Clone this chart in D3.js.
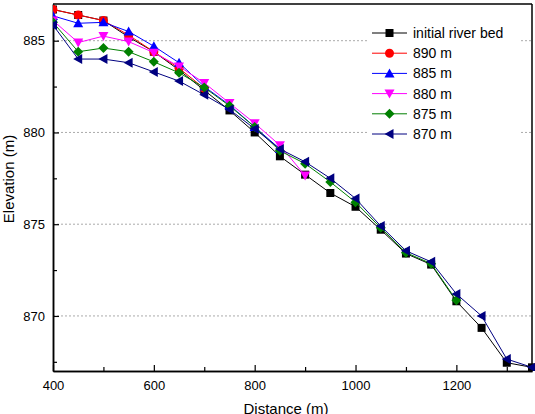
<!DOCTYPE html>
<html><head><meta charset="utf-8">
<script src="https://cdn.jsdelivr.net/npm/d3@7"></script>
<style>body{margin:0;background:#fff}svg{display:block}text{font-family:"Liberation Sans",Arial,sans-serif}</style>
</head><body>
<script>
const xTicks = [400, 600, 800, 1000, 1200];
const yTicks = [870, 875, 880, 885];
const distBed = [400,450,500,550,600,650,700,750,800,850,900,950,1000,1050,1100,1150,1200,1250,1300,1350];
const bed = [886.7,886.4,886.1,885.2,884.4,883.4,882.3,881.2,880.0,878.7,877.7,876.7,875.95,874.7,873.4,872.8,870.8,869.35,867.45,867.2];
const dist890 = [400,450,500,550,600,650,700];
const e890 = [886.7,886.4,886.1,885.3,884.4,883.5,882.4];
const dist885 = [400,450,500,550,600,650,700,750,800,850];
const e885 = [886.35,885.95,886.0,885.5,884.7,883.8,882.5,881.5,880.3,879.1];
const dist880 = [400,450,500,550,600,650,700,750,800,850,900];
const e880 = [886.1,884.9,885.25,884.95,884.35,883.6,882.7,881.6,880.5,879.3,877.65];
const dist875 = [400,450,500,550,600,650,700,750,800,850,900,950,1000,1050,1100,1150,1200];
const e875 = [886.0,884.4,884.6,884.4,883.85,883.25,882.45,881.45,880.3,879.0,878.3,877.3,876.2,874.8,873.45,872.85,870.85];
const dist870 = [400,450,500,550,600,650,700,750,800,850,900,950,1000,1050,1100,1150,1200,1250,1300,1350];
const e870 = [885.85,884.0,884.0,883.8,883.3,882.8,882.05,881.25,880.2,879.1,878.4,877.5,876.4,874.9,873.55,872.95,871.2,870.0,867.65,867.2];

const series = [
  {name:"initial river bed", x:distBed, y:bed, color:"#000000", sym:"square"},
  {name:"890 m", x:dist890, y:e890, color:"#ff0000", sym:"circle"},
  {name:"885 m", x:dist885, y:e885, color:"#0000ff", sym:"up"},
  {name:"880 m", x:dist880, y:e880, color:"#ff00ff", sym:"down"},
  {name:"875 m", x:dist875, y:e875, color:"#008000", sym:"diamond"},
  {name:"870 m", x:dist870, y:e870, color:"#000080", sym:"left"}
];

const W=535,H=414;
const m={l:53,r:3,t:4,b:43};
const svg=d3.select("body").append("svg").attr("width",W).attr("height",H);
const x=d3.scaleLinear().domain([400,1350]).range([m.l,W-m.r]);
const y=d3.scaleLinear().domain([867,887]).range([H-m.b,m.t]);

// grid
svg.append("g").selectAll("line").data(yTicks).join("line")
  .attr("x1",m.l).attr("x2",W-m.r).attr("y1",d=>y(d)).attr("y2",d=>y(d))
  .attr("stroke","#aaa").attr("stroke-width",1).attr("stroke-dasharray","2,2");

// frame top/right
svg.append("line").attr("x1",m.l).attr("x2",W-m.r).attr("y1",m.t).attr("y2",m.t).attr("stroke","#000").attr("stroke-width",1.5);
svg.append("line").attr("x1",W-m.r).attr("x2",W-m.r).attr("y1",m.t).attr("y2",H-m.b).attr("stroke","#000").attr("stroke-width",1.5);

// axes
const xa=svg.append("g").attr("transform",`translate(0,${H-m.b})`)
  .call(d3.axisBottom(x).tickValues(xTicks).tickFormat(d3.format("d")).tickSizeInner(-6).tickSizeOuter(0).tickPadding(10));
const xm=svg.append("g").attr("transform",`translate(0,${H-m.b})`)
  .call(d3.axisBottom(x).tickValues(d3.range(500,1350,200)).tickFormat("").tickSizeInner(-4).tickSizeOuter(0));
const ya=svg.append("g").attr("transform",`translate(${m.l},0)`)
  .call(d3.axisLeft(y).tickValues(yTicks).tickSizeInner(-6).tickSizeOuter(0).tickPadding(8));
const ym=svg.append("g").attr("transform",`translate(${m.l},0)`)
  .call(d3.axisLeft(y).tickValues([867.5,872.5,877.5,882.5]).tickFormat("").tickSizeInner(-4).tickSizeOuter(0));
[xa,xm,ya,ym].forEach(g=>{g.select(".domain").attr("stroke","#000").attr("stroke-width",1.5);
  g.selectAll(".tick line").attr("stroke","#000").attr("stroke-width",1.2);
  g.selectAll("text").attr("font-size",13).attr("fill","#000").style("font-family","Liberation Sans, Arial, sans-serif");});

svg.append("text").attr("x",286).attr("y",414).attr("text-anchor","middle").attr("font-size",15).text("Distance (m)");
svg.append("text").attr("transform",`translate(14,179) rotate(-90)`).attr("text-anchor","middle").attr("font-size",15).text("Elevation (m)");

function marker(g,sym,color,s){
  const r=s/2;
  if(sym==="square") g.append("rect").attr("x",-r).attr("y",-r).attr("width",s).attr("height",s).attr("fill",color);
  else if(sym==="circle") g.append("circle").attr("r",r+0.5).attr("fill",color);
  else {
    let pts;
    if(sym==="up") pts=[[0,-r-1],[r+1,r],[-r-1,r]];
    if(sym==="down") pts=[[0,r+1],[r+1,-r],[-r-1,-r]];
    if(sym==="left") pts=[[-r-1,0],[r,-r-1],[r,r+1]];
    if(sym==="diamond") pts=[[0,-r-1],[r+1,0],[0,r+1],[-r-1,0]];
    g.append("polygon").attr("points",pts.map(p=>p.join(",")).join(" ")).attr("fill",color);
  }
}

const clip=svg.append("clipPath").attr("id","c").append("rect").attr("x",m.l).attr("y",m.t-6).attr("width",W-m.l).attr("height",H-m.b-m.t+6);
const plot=svg.append("g").attr("clip-path","url(#c)");
series.forEach(s=>{
  const pts=s.x.map((d,i)=>[d,s.y[i]]);
  plot.append("path").datum(pts).attr("fill","none").attr("stroke",s.color).attr("stroke-width",1)
    .attr("d",d3.line().x(d=>x(d[0])).y(d=>y(d[1])));
  pts.forEach(p=>{const g=plot.append("g").attr("transform",`translate(${x(p[0])},${y(p[1])})`);marker(g,s.sym,s.color,8);});
});

// legend
const lg=svg.append("g");
lg.append("rect").attr("x",368).attr("y",22).attr("width",152).attr("height",124).attr("fill","#fff");
series.forEach((s,i)=>{
  const yy=33+i*20.2;
  lg.append("line").attr("x1",372).attr("x2",407).attr("y1",yy).attr("y2",yy).attr("stroke",s.color).attr("stroke-width",1);
  const g=lg.append("g").attr("transform",`translate(389.5,${yy})`);marker(g,s.sym,s.color,8);
  lg.append("text").attr("x",413).attr("y",yy+5).attr("font-size",14).text(s.name);
});
</script>
</body></html>
